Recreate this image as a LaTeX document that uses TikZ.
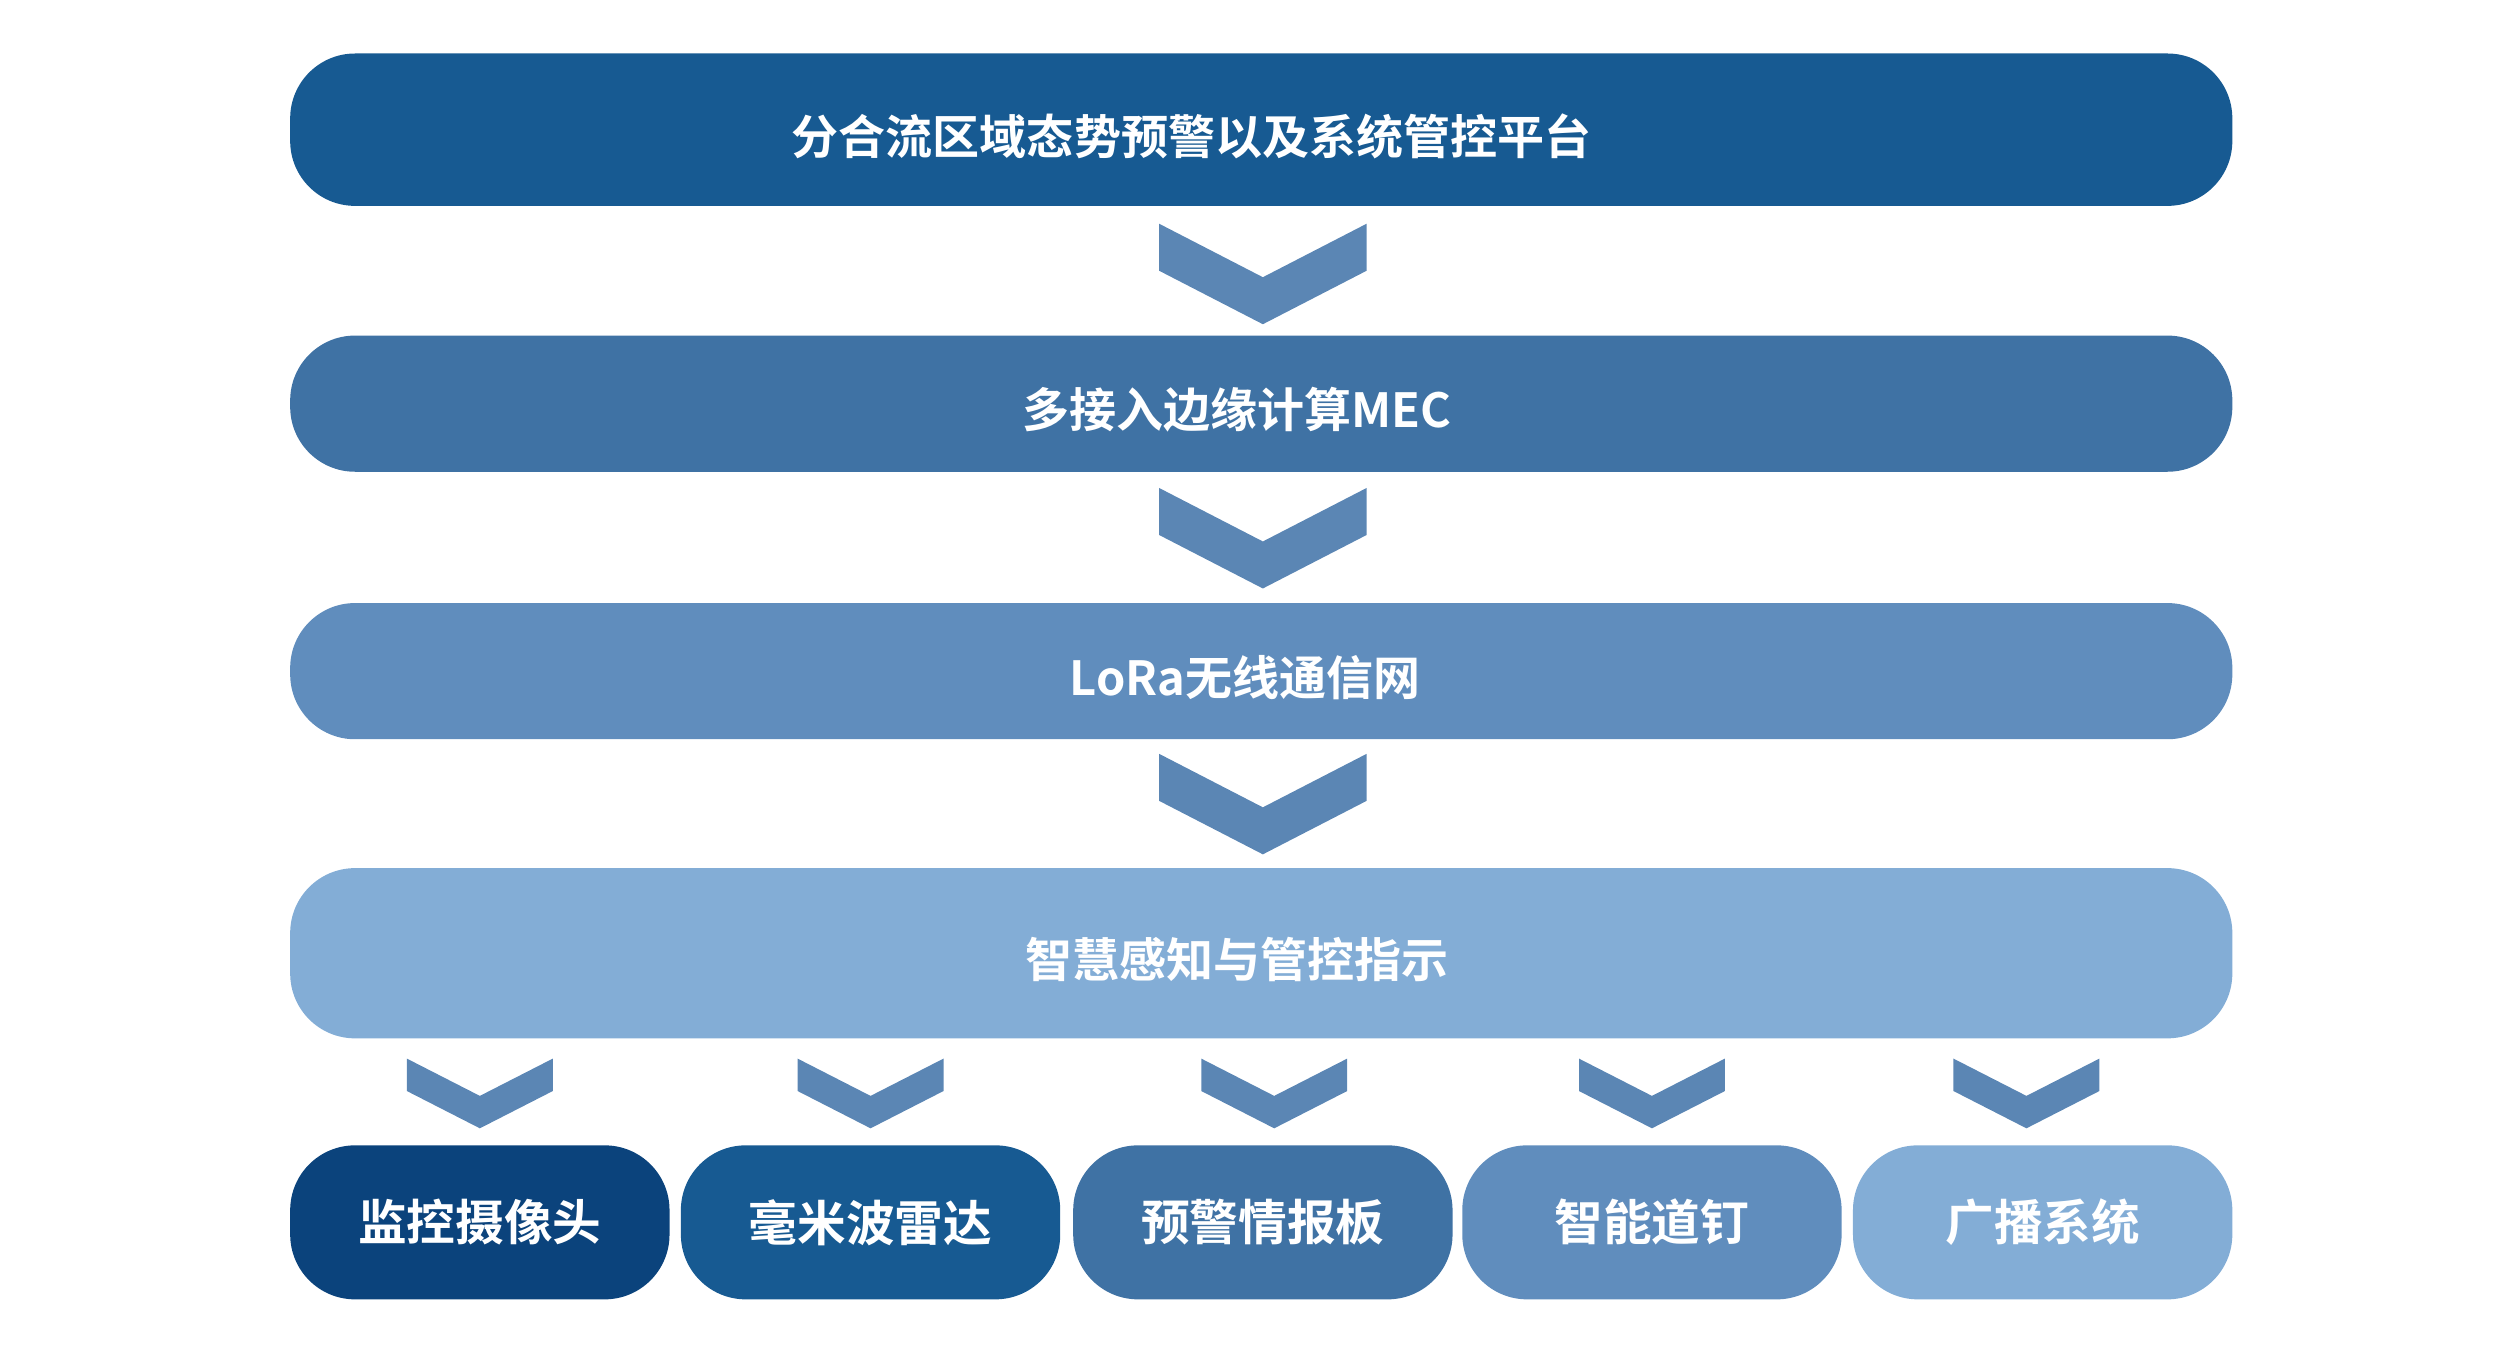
\documentclass[tikz,border=0pt]{standalone}
\usepackage{fontspec}
\newfontfamily\cjk{Noto Sans CJK SC Bold}
\definecolor{cA}{HTML}{0B437C}
\definecolor{cB}{HTML}{175A92}
\definecolor{cC}{HTML}{3F72A4}
\definecolor{cD}{HTML}{608DBD}
\definecolor{cE}{HTML}{83ADD6}
\tikzset{
	bar/.style  = {rectangle, rounded corners=40pt, minimum width=1198pt, inner sep=0pt},
	box/.style  = {rectangle, rounded corners=40pt, minimum width=234pt, minimum height=95pt, inner sep=0pt,
		text=white, font=\cjk\fontsize{30}{30}\selectfont},
	label/.style = {text=white, font=\cjk\fontsize{29}{29}\selectfont, inner sep=0pt},
	chev/.style = {fill=cD!95!black}
}
\begin{document}
\begin{tikzpicture}[x=1pt,y=-1pt]
	\useasboundingbox (0,0) rectangle (1552,837);
	
	% layers
	\node[bar, fill=cB, minimum height=94pt] (l1) at (778,80) {};
	\node[label] (t1) at (735,84) {分合流区域态势预警以及系统管控平台};
	\node[bar, fill=cC, minimum height=84pt] (l2) at (778,249) {};
	\node[label] (t2) at (763,253) {多接入边缘计算MEC};
	\node[bar, fill=cD, minimum height=84pt] (l3) at (778,414) {};
	\node[label] (t3) at (768,418) {LoRa无线通信网};
	\node[bar, fill=cE, minimum height=105pt] (l4) at (778,588) {};
	\node[label] (t4) at (763,592) {智慧感知与管控指示};
	
	% devices
	\node[box, fill=cA] (d1) at (296,754) {监控摄像头};
	\node[box, fill=cB] (d2) at (537,754) {毫米波雷达};
	\node[box, fill=cC] (d3) at (779,754) {预警情报板};
	\node[box, fill=cD] (d4) at (1019,754) {智能道钉};
	\node[box, fill=cE] (d5) at (1260,754) {广播系统};
	
	% big chevrons
	\foreach \y in {138,301,465}
	\fill[chev] (715,\y) -- (779,\y+33) -- (843,\y) -- (843,\y+29) -- (779,\y+62) -- (715,\y+29) -- cycle;
	% small chevrons
	\foreach \x in {296,537,786,1019,1250}
	\fill[chev] (\x-45,653) -- (\x,676) -- (\x+45,653) -- (\x+45,673) -- (\x,696) -- (\x-45,673) -- cycle;
\end{tikzpicture}
\end{document}
